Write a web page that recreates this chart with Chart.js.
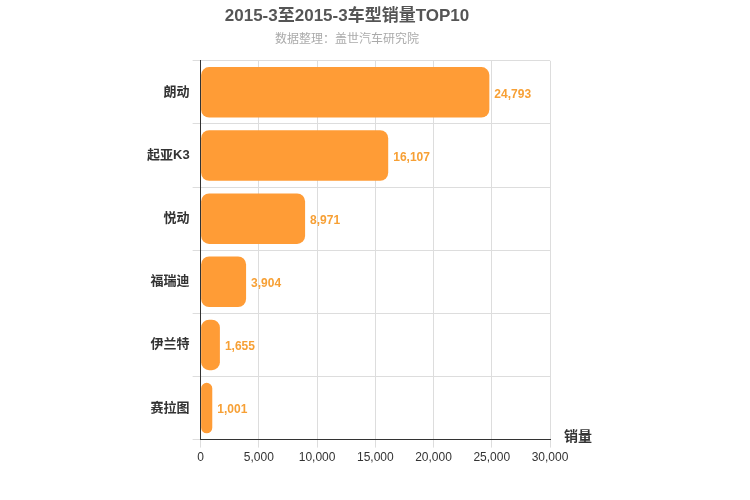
<!DOCTYPE html>
<html><head><meta charset="utf-8">
<script src="https://cdn.jsdelivr.net/npm/chart.js@4"></script>
<style>body{margin:0}#w{width:750px;height:500px}</style></head>
<body><div id="w"><canvas id="c"></canvas></div>
<script>
const categories=["朗动","起亚K3","悦动","福瑞迪","伊兰特","赛拉图"];
const sales=[24793,16107,8971,3904,1655,1001];
const xTicks=[0,5000,10000,15000,20000,25000,30000];
const F='"Helvetica Neue",Arial,"Noto Sans CJK SC",sans-serif';
const labelPlugin={id:'lbl',afterDatasetsDraw(ch){const c=ch.ctx;const m=ch.getDatasetMeta(0);c.save();c.font='bold 12px '+F;c.fillStyle='#f7a035';c.textBaseline='middle';m.data.forEach((b,i)=>{c.fillText(sales[i].toLocaleString('en-US'),b.x+5,b.y+2);});
const xs=ch.scales.x;c.font='bold 14px '+F;c.fillStyle='#333';c.fillText('销量',xs.right+14,xs.top-2);c.restore();}};
new Chart(document.getElementById('c'),{type:'bar',
data:{labels:categories,datasets:[{data:sales,backgroundColor:'#ff9c36',borderRadius:8,borderSkipped:false,categoryPercentage:0.8,barPercentage:1}]},
options:{indexAxis:'y',responsive:true,maintainAspectRatio:false,animation:false,
layout:{padding:{left:144,right:200,top:0,bottom:32}},
plugins:{legend:{display:false},tooltip:{enabled:false},
title:{display:true,text:'2015-3至2015-3车型销量TOP10',color:'#555',font:{size:17,weight:'bold',family:F},padding:{top:6,bottom:6}},
subtitle:{display:true,text:'数据整理：盖世汽车研究院',color:'#aaa',font:{size:12,family:F},padding:{bottom:14}}},
scales:{x:{min:0,max:30000,afterBuildTicks:a=>{a.ticks=xTicks.map(v=>({value:v}));},
ticks:{color:'#333',font:{size:12,family:F},callback:v=>v.toLocaleString('en-US')},
grid:{color:'#ddd',drawTicks:true},border:{color:'#333'}},
y:{ticks:{color:'#333',font:{size:13,weight:'bold',family:F}},grid:{color:'#ddd',offset:true},border:{color:'#333'}}}},
plugins:[labelPlugin]});
</script></body></html>
